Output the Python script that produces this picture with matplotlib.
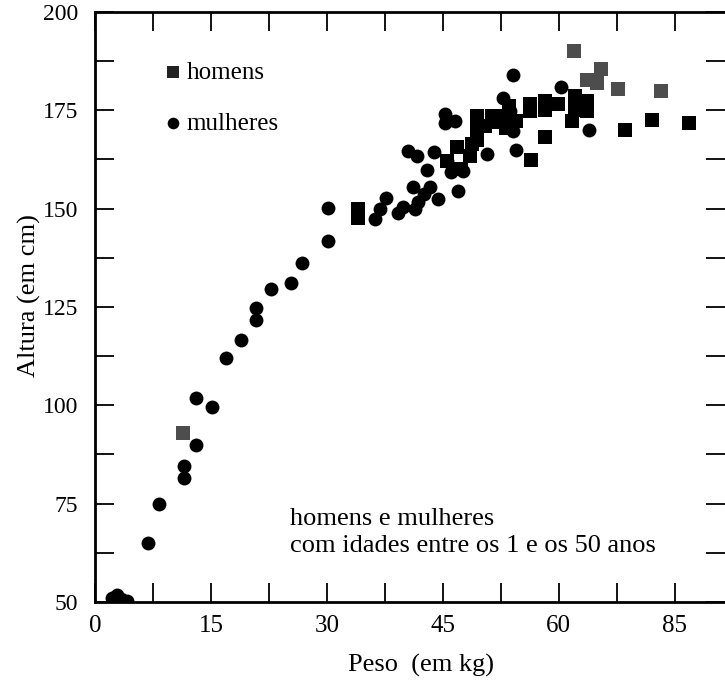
import matplotlib
matplotlib.use("Agg")
import matplotlib.pyplot as plt
from matplotlib.ticker import MultipleLocator, FixedLocator
import numpy as np

# --- dados (peso em kg, altura em cm) ---

# homens (quadrados pretos)
homens_peso = [34.0, 34.0, 45.6, 46.8, 47.3, 48.5, 48.8, 49.4, 49.4, 49.4,
               50.5, 51.3, 52.2, 52.8, 53.5, 54.5, 53.2, 56.3, 56.3, 58.2,
               58.2, 59.9, 62.1, 62.1, 63.6, 63.6, 61.7, 58.2, 56.4, 68.6,
               72.0, 76.9]
homens_altura = [150.0, 147.5, 162.0, 165.6, 160.0, 163.5, 166.5, 173.5, 170.5, 167.5,
                 171.0, 173.5, 172.0, 173.5, 176.0, 172.3, 170.5, 176.5, 174.8, 177.3,
                 175.2, 176.5, 178.6, 175.2, 177.3, 174.8, 172.3, 168.2, 162.3, 170.0,
                 172.5, 171.9]

# homens (quadrados cinzentos, tracejado da impressao)
homens2_peso = [11.4, 62.0, 65.5, 63.7, 64.9, 67.6, 73.2]
homens2_altura = [93.0, 190.2, 185.5, 182.8, 182.0, 180.3, 180.0]

# mulheres (circulos)
mulheres_peso = [2.2, 2.9, 3.4, 4.1, 6.9, 8.3, 11.5, 11.5, 13.1, 13.1,
                 15.2, 16.9, 18.9, 20.8, 20.8, 22.8, 25.4, 26.8, 30.2, 30.2,
                 36.2, 36.9, 37.7, 39.2, 39.9, 40.5, 41.6, 41.4, 41.8, 41.2,
                 42.9, 42.5, 43.4, 44.4, 43.8, 45.3, 45.3, 46.6, 47.0, 46.0,
                 47.6, 45.5, 50.7, 52.8, 53.7, 54.1, 54.5, 54.1, 60.3, 63.9]
mulheres_altura = [51.0, 51.8, 50.8, 50.2, 64.9, 74.9, 81.6, 84.5, 90.0, 101.8,
                   99.6, 112.0, 116.6, 121.8, 124.8, 129.5, 131.2, 136.2, 141.9, 150.1,
                   147.3, 149.9, 152.6, 148.8, 150.5, 164.7, 163.4, 149.9, 151.6, 155.4,
                   159.8, 153.7, 155.4, 152.5, 164.3, 171.9, 174.0, 172.3, 154.6, 159.3,
                   159.6, 162.2, 163.8, 178.2, 174.8, 169.7, 164.8, 184.1, 180.9, 169.9]

x_ticks = [0, 15, 30, 45, 60, 75]
x_labels = ["0", "15", "30", "45", "60", "85"]
y_ticks = [50, 75, 100, 125, 150, 175, 200]

serif = "Liberation Serif"

fig = plt.figure(figsize=(7.25, 6.8), dpi=100)
ax = fig.add_axes([95 / 725, 1 - 602 / 680, 1 - 95 / 725, (602 - 12) / 680])

ax.scatter(homens_peso, homens_altura, marker="s", s=100, color="black", linewidths=0)
ax.scatter(homens2_peso, homens2_altura, marker="s", s=100, color="#4d4d4d", linewidths=0)
ax.scatter(mulheres_peso, mulheres_altura, marker="o", s=100, color="black", linewidths=0)

ax.set_xlim(0, 81.5)
ax.set_ylim(50, 200)

ax.xaxis.set_major_locator(FixedLocator(x_ticks))
ax.set_xticklabels(x_labels)
ax.xaxis.set_minor_locator(MultipleLocator(7.5))
ax.yaxis.set_major_locator(FixedLocator(y_ticks))
ax.yaxis.set_minor_locator(MultipleLocator(12.5))

ax.tick_params(which="both", direction="in", top=True, right=True,
               length=14, width=1.3, color="black")
ax.tick_params(axis="x", which="major", pad=9, labelsize=18)
ax.tick_params(axis="y", which="major", pad=12, labelsize=17)
for lab in ax.get_xticklabels() + ax.get_yticklabels():
    lab.set_family(serif)

for side in ["left", "bottom", "top"]:
    ax.spines[side].set_linewidth(2)
ax.spines["right"].set_visible(False)

ax.set_ylabel("Altura (em cm)", fontsize=19, family=serif)
ax.yaxis.set_label_coords(-0.086, 0.52)
ax.set_xlabel("Peso  (em kg)", fontsize=19, family=serif)
ax.xaxis.set_label_coords(0.517, -0.088)

# legenda
h1 = ax.scatter([], [], marker="s", s=70, color="#222222", linewidths=0)
h2 = ax.scatter([], [], marker="o", s=70, color="black", linewidths=0)
leg = ax.legend([h1, h2], ["homens", "mulheres"], loc="upper left",
                bbox_to_anchor=(0.072, 0.955), frameon=False, handletextpad=0.15,
                handlelength=0.8, labelspacing=1.15, prop={"family": serif, "size": 18})

ax.text(25.2, 73.8, "homens e mulheres\ncom idades entre os 1 e os 50 anos",
        family=serif, fontsize=19, va="top", ha="left", linespacing=1.25)

fig.savefig("out.png", dpi=100)
